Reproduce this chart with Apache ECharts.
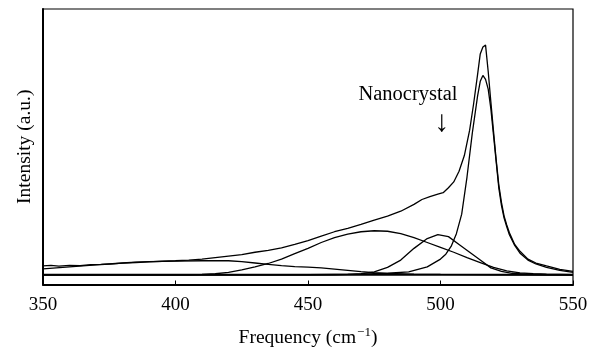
<!DOCTYPE html>
<html>
<head>
<meta charset="utf-8">
<script src="https://cdn.jsdelivr.net/npm/echarts@6/dist/echarts.min.js"></script>
<style>
html,body{margin:0;padding:0;background:#fff;}
#chart{width:598px;height:353px;}
</style>
</head>
<body>
<div id="chart"></div>
<script>
// ---- Data (frequency in cm^-1, intensity in arbitrary units above baseline) ----
const xTicks = [350, 400, 450, 500, 550];

// Measured (total) spectrum
const totalFreq = [350,353,356,360,364,368,372,376,380,385,390,395,400,405,410,415,420,425,430,435,440,445,450,455,460,465,470,475,480,485,490,493,496,499,501,503,505,507,509,511,512.5,514,515,516,517,518,519,520,521,522,523,524,525,526,528,530,533,536,540,545,550];
const totalVal  = [9,9.5,8.8,9.6,9.4,10.2,10.6,11.2,11.8,12.5,13.2,13.8,14.3,15,16,17.5,19,20.5,23,25,27.5,31,35,39.5,44,47.5,51.5,56,60,65,72,77,80,82.5,84,89,95,106,122,148,175,205,226,233,235,208,177,147,118,92,74,60,51,43,31,24,16,12,9,5.5,3.5];

// Low-frequency broad component
const bandAFreq = [350,355,360,365,370,375,380,385,390,400,410,420,425,430,435,440,445,450,455,460,465,470,475,480,490,500,520,550];
const bandAVal  = [6,7,8,9,10,11,12,13,13.5,14,14.3,14.3,13.5,12,10.5,9.3,8.3,7.8,7,5.8,4.5,3.2,2.2,1.4,0.7,0.3,0,0];

// Amorphous component (~476 cm^-1)
const bandBFreq = [350,405,410,415,420,425,430,435,440,445,450,455,460,465,470,475,480,485,490,495,500,505,510,515,520,525,530,535,540,550];
const bandBVal  = [0,0,0.3,1,2.5,5,8,11.5,16,21.5,27,33,38,41.5,44,45,44.5,42,38,33,28,23,17.5,12.5,7.5,4,2,1,0.5,0];

// Nanocrystal component (~499 cm^-1)
const bandCFreq = [350,460,465,470,475,480,485,490,495,499,503,507,511,515,519,523,527,532,540,550];
const bandCVal  = [0,0,0.3,1,3,7.5,15,27,37,41,39,31,23,15,7,3.5,1.5,0.5,0,0];

// Crystalline Si component (~516 cm^-1)
const bandDFreq = [350,450,460,470,480,488,495,500,502,504,506,508,510,512,514,515,516,517,518,519,520,521,522,523,524,525,526,528,530,533,536,540,545,550];
const bandDVal  = [0,0,0.3,0.6,1.5,3,8,16,21,29,42,62,100,145,183,198,204,200,190,170,143,116,89,71,58,49,41,30,22,15,11,7.5,4.5,2.5];

// Baseline
const baseFreq = [350, 550];
const baseVal  = [0, 0];

const pairs = (xs, ys) => xs.map((x, i) => [x, ys[i]]);

const FONT = "'Liberation Serif', 'DejaVu Serif', serif";
const lineStyle = { color: '#000', width: 1.3 };
function curve(name, xs, ys, extra) {
  return Object.assign({
    name, type: 'line', data: pairs(xs, ys), showSymbol: false, symbol: 'none',
    smooth: false, lineStyle: Object.assign({}, lineStyle), silent: true, animation: false
  }, extra || {});
}

const chart = echarts.init(document.getElementById('chart'), null, { renderer: 'canvas' });
chart.setOption({
  backgroundColor: '#fff',
  animation: false,
  grid: { left: 43, right: 25, top: 9, bottom: 62, show: true, borderColor: '#000', borderWidth: 1.2, backgroundColor: 'transparent' },
  xAxis: {
    type: 'value', min: 350, max: 550, interval: 50,
    axisLine: { show: true, onZero: false, lineStyle: { color: '#000', width: 2.2 } },
    axisTick: { show: true, inside: true, length: 4, lineStyle: { color: '#000', width: 1 } },
    axisLabel: { color: '#000', fontFamily: FONT, fontSize: 19, margin: 11 },
    splitLine: { show: false },
    name: '{a|Frequency (cm}{s|\u22121}{a|)}',
    nameLocation: 'middle', nameGap: 42,
    nameTextStyle: {
      rich: {
        a: { fontFamily: FONT, fontSize: 19.5, color: '#000' },
        s: { fontFamily: FONT, fontSize: 13, color: '#000', verticalAlign: 'top', padding: [0, 0, 10, 1] }
      }
    }
  },
  yAxis: {
    type: 'value', min: -10, max: 272,
    axisLine: { show: true, onZero: false, lineStyle: { color: '#000', width: 2 } },
    axisTick: { show: false },
    axisLabel: { show: false },
    splitLine: { show: false },
    name: 'Intensity (a.u.)', nameLocation: 'middle', nameGap: 8,
    nameTextStyle: { fontFamily: FONT, fontSize: 19.5, color: '#000' }
  },
  series: [
    curve('Baseline', baseFreq, baseVal, { lineStyle: { color: '#000', width: 2 } }),
    curve('Band A', bandAFreq, bandAVal),
    curve('Band B', bandBFreq, bandBVal),
    curve('Nanocrystal', bandCFreq, bandCVal, {
      markPoint: {
        symbol: 'circle', symbolSize: 0, silent: true,
        label: { show: true, color: '#000', fontFamily: FONT, fontSize: 20.5, position: 'inside' },
        data: [
          { coord: [487.7, 184], label: { formatter: 'Nanocrystal' } },
          { coord: [500.5, 155], label: { formatter: '\u2193', fontSize: 30 } }
        ]
      }
    }),
    curve('c-Si', bandDFreq, bandDVal),
    curve('Total', totalFreq, totalVal)
  ]
});
</script>
</body>
</html>
